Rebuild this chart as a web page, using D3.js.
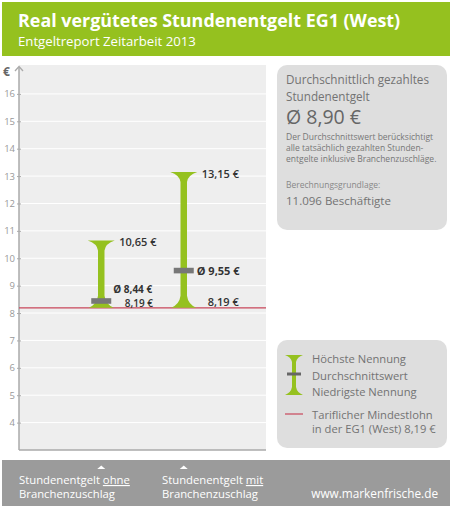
<!DOCTYPE html>
<html><head><meta charset="utf-8">
<script src="https://cdn.jsdelivr.net/npm/d3@7/dist/d3.min.js"></script>
<style>
html,body{margin:0;padding:0;background:#fff;}
svg{display:block;font-family:"Open Sans","Noto Sans",sans-serif;}
</style></head>
<body>
<script>
// ---- data ----
const categories = ["ohne", "mit"];
const highValues = [10.65, 13.15];
const meanValues = [8.44, 9.55];
const lowValues = [8.19, 8.19];
const minWage = 8.19;
const yTicks = [4, 5, 6, 7, 8, 9, 10, 11, 12, 13, 14, 15, 16];
const footerLabels = [["Stundenentgelt ", "ohne", "Branchenzuschlag"], ["Stundenentgelt ", "mit", "Branchenzuschlag"]];
const title = "Real vergütetes Stundenentgelt EG1 (West)";
const subtitle = "Entgeltreport Zeitarbeit 2013";
const infoLines = ["Durchschnittlich gezahltes", "Stundenentgelt"];
const infoValue = 8.90;
const infoText = ["Der Durchschnittswert berücksichtigt", "alle tatsächlich gezahlten Stunden-", "entgelte inklusive Branchenzuschläge."];
const basisLabel = "Berechnungsgrundlage:";
const basisValue = "11.096 Beschäftigte";
const legendItems = ["Höchste Nennung", "Durchschnittswert", "Niedrigste Nennung"];
const legendWage = ["Tariflicher Mindestlohn", "in der EG1 (West) 8,19 €"];
const website = "www.markenfrische.de";

// ---- setup ----
const W = 452, H = 508;
const green = "#95c11f", grey = "#777";
const de = d3.formatLocale({decimal: ",", thousands: ".", grouping: [3], currency: ["", " €"]});
const fmt = de.format(".2f");

const svg = d3.select("body").append("svg").attr("width", W).attr("height", H);

// header
svg.append("rect").attr("x", 2).attr("y", 2).attr("width", 448).attr("height", 54).attr("fill", green);
svg.append("text").attr("x", 18).attr("y", 27).attr("fill", "#fff").attr("font-size", 17.9).attr("font-weight", 700).text(title);
svg.append("text").attr("x", 18).attr("y", 46).attr("fill", "#fff").attr("font-size", 13.2).text(subtitle);

// chart panel
const panel = {left: 19, right: 266, top: 65, bottom: 450};
svg.append("rect").attr("x", panel.left).attr("y", panel.top).attr("width", panel.right - panel.left).attr("height", panel.bottom - panel.top).attr("fill", "#eeeeee");

const y = d3.scaleLinear().domain([3, 17]).range([panel.bottom, 66.5]);
const x = d3.scalePoint().domain(categories).range([60, 225]).padding(0.5);

// gridlines
svg.append("g").selectAll("line").data(yTicks).join("line")
  .attr("x1", panel.left).attr("x2", panel.right)
  .attr("y1", d => y(d)).attr("y2", d => y(d))
  .attr("stroke", "#fff").attr("stroke-width", 1);

// y axis
const yAxis = d3.axisLeft(y).tickValues(yTicks).tickSize(3).tickFormat(d3.format("d"));
const ga = svg.append("g").attr("transform", `translate(${panel.left},0)`).call(yAxis);
ga.select(".domain").remove();
ga.selectAll(".tick line").attr("stroke", "#aaa").attr("x2", 2).attr("x1", -2);
ga.selectAll(".tick text").attr("fill", "#999").attr("font-size", 9.5).attr("x", -4).attr("font-family", "Open Sans");
svg.append("line").attr("x1", panel.left).attr("x2", panel.left).attr("y1", 67).attr("y2", panel.bottom).attr("stroke", "#aaa").attr("stroke-width", 1.5);
svg.append("line").attr("x1", panel.left).attr("x2", panel.right).attr("y1", panel.bottom).attr("y2", panel.bottom).attr("stroke", "#aaa").attr("stroke-width", 1.5);
svg.append("path").attr("d", `M${panel.left - 4},71 L${panel.left},66.5 L${panel.left + 4},71`).attr("fill", "none").attr("stroke", "#aaa").attr("stroke-width", 1.3);
svg.append("text").attr("x", 3).attr("y", 76).attr("fill", "#666").attr("font-size", 12).attr("font-weight", 700).text("€");

// min wage line
svg.append("line").attr("x1", panel.left).attr("x2", panel.right).attr("y1", y(minWage)).attr("y2", y(minWage)).attr("stroke", "#c8465a").attr("stroke-width", 1.2);

// I-beam shape
function ibeam(cx, yTop, yLow, topW, lowW, stemW, fTop, fLow) {
  const t = topW / 2, l = lowW / 2, s = stemW / 2;
  return `M${cx - t},${yTop} L${cx + t},${yTop} Q${cx + s + 1},${yTop + fTop * 0.3} ${cx + s},${yTop + fTop}`
    + ` L${cx + s},${yLow - fLow} Q${cx + s + 1},${yLow - fLow * 0.3} ${cx + l},${yLow}`
    + ` L${cx - l},${yLow} Q${cx - s - 1},${yLow - fLow * 0.3} ${cx - s},${yLow - fLow}`
    + ` L${cx - s},${yTop + fTop} Q${cx - s - 1},${yTop + fTop * 0.3} ${cx - t},${yTop} Z`;
}

const bars = categories.map((c, i) => ({c, hi: highValues[i], mean: meanValues[i], lo: lowValues[i]}));
svg.append("g").selectAll("path").data(bars).join("path")
  .attr("d", d => ibeam(x(d.c), y(d.hi), y(d.lo), 27, 25, 6.5, 10, 12))
  .attr("fill", green);
svg.append("g").selectAll("rect").data(bars).join("rect")
  .attr("x", d => x(d.c) - 10).attr("y", d => y(d.mean) - 2.8)
  .attr("width", 20).attr("height", 5.6).attr("fill", grey);

// value labels
const lab = svg.append("g").attr("fill", "#333").attr("font-size", 11).attr("font-weight", 600);
bars.forEach((d, i) => {
  lab.append("text").attr("x", x(d.c) + 18).attr("y", y(d.hi) + 6).text(fmt(d.hi) + " €");
});
lab.append("text").attr("x", x(categories[0]) + 12).attr("y", y(meanValues[0]) - 8.2).attr("font-size", 10).attr("font-weight", 700).text("Ø " + fmt(meanValues[0]) + " €");
lab.append("text").attr("x", x(categories[1]) + 13).attr("y", y(meanValues[1]) + 4).attr("font-weight", 700).text("Ø " + fmt(meanValues[1]) + " €");
lab.append("text").attr("x", x(categories[0]) + 23.5).attr("y", y(lowValues[0]) - 1.2).attr("font-size", 10).text(fmt(lowValues[0]) + " €");
lab.append("text").attr("x", x(categories[1]) + 24).attr("y", y(lowValues[1]) - 1.5).text(fmt(lowValues[1]) + " €");

// info box
const ib = svg.append("g");
ib.append("rect").attr("x", 277).attr("y", 65).attr("width", 170).attr("height", 165).attr("rx", 10).attr("fill", "#dedede");
ib.selectAll("text.h").data(infoLines).join("text").attr("class", "h")
  .attr("x", 286).attr("y", (d, i) => 84 + i * 17).attr("fill", "#737373").attr("font-size", 11.7).text(d => d);
ib.append("text").attr("x", 286).attr("y", 124).attr("fill", "#666").attr("font-size", 19.5).text("Ø " + fmt(infoValue) + " €");
ib.selectAll("text.p").data(infoText).join("text").attr("class", "p")
  .attr("x", 286).attr("y", (d, i) => 140 + i * 11).attr("fill", "#777").attr("font-size", 8.5).text(d => d);
ib.append("text").attr("x", 286).attr("y", 188).attr("fill", "#888").attr("font-size", 8.5).text(basisLabel);
ib.append("text").attr("x", 286).attr("y", 205).attr("fill", "#737373").attr("font-size", 11.5).text(basisValue);

// legend box
const lg = svg.append("g");
lg.append("rect").attr("x", 277).attr("y", 340).attr("width", 170).attr("height", 108).attr("rx", 10).attr("fill", "#dedede");
lg.append("path").attr("d", ibeam(294, 355, 395, 18, 18, 4, 7, 8)).attr("fill", green);
lg.append("rect").attr("x", 287).attr("y", 372.5).attr("width", 14).attr("height", 3).attr("fill", "#666");
lg.selectAll("text.l").data(legendItems).join("text").attr("class", "l")
  .attr("x", 312).attr("y", (d, i) => 363 + i * 16.5).attr("fill", "#737373").attr("font-size", 11.2).text(d => d);
lg.append("line").attr("x1", 285).attr("x2", 303).attr("y1", 414).attr("y2", 414).attr("stroke", "#c8465a").attr("stroke-width", 1.2);
lg.selectAll("text.w").data(legendWage).join("text").attr("class", "w")
  .attr("x", 312).attr("y", (d, i) => 418.5 + i * 14).attr("fill", "#737373").attr("font-size", 11.2).text(d => d);

// footer
const ft = svg.append("g");
ft.append("rect").attr("x", 2).attr("y", 460).attr("width", 448).attr("height", 46).attr("fill", "#9b9b9b");
ft.selectAll("path").data(categories).join("path")
  .attr("d", d => `M${x(d) - 4},469 L${x(d)},465.5 L${x(d) + 4},469 Z`).attr("fill", "#fff");
const footerX = [19, 162];
footerLabels.forEach((fl, i) => {
  const t = ft.append("text").attr("x", footerX[i]).attr("y", 484).attr("fill", "#fff").attr("font-size", 11.3);
  t.append("tspan").text(fl[0]);
  t.append("tspan").attr("text-decoration", "underline").text(fl[1]);
  ft.append("text").attr("x", footerX[i]).attr("y", 498).attr("fill", "#fff").attr("font-size", 11.3).text(fl[2]);
});
ft.append("text").attr("x", 438).attr("y", 498).attr("text-anchor", "end").attr("fill", "#fff").attr("font-size", 11.8).text(website);
</script>
</body></html>
